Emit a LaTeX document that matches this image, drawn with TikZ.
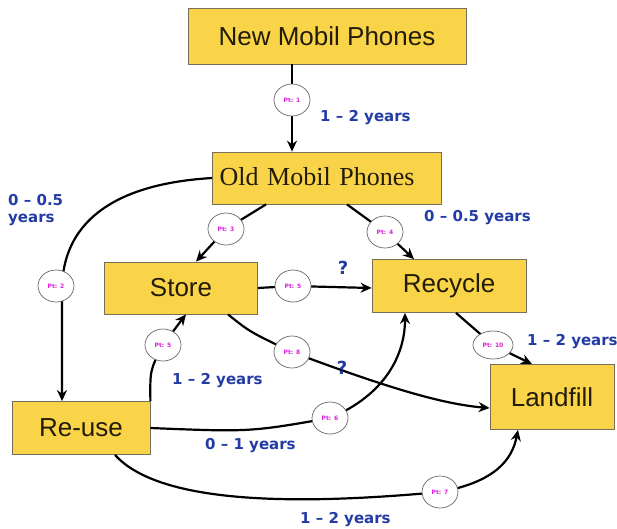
\documentclass[tikz,border=0pt]{standalone}
\usepackage{fontspec}
\setmainfont{Liberation Sans}
\newfontfamily\serifface{Liberation Serif}
\newfontfamily\labface{DejaVu Sans}
\usetikzlibrary{arrows.meta,shapes.geometric}
\definecolor{boxfill}{RGB}{249,212,72}
\definecolor{boxline}{RGB}{120,110,90}
\definecolor{boxtxt}{RGB}{35,28,10}
\definecolor{lblblue}{RGB}{35,60,165}
\definecolor{ptmag}{RGB}{220,30,220}
\tikzset{
  box/.style={draw=boxline, line width=0.8pt, fill=boxfill, inner sep=0pt, text=boxtxt},
  boxtext/.style={font=\fontsize{26}{28}\selectfont},
  arr/.style={line width=2.2pt, -{Stealth[length=11pt,width=10pt]}},
  ptnode/.style={ellipse, draw=gray!80!black, line width=0.7pt, fill=white, minimum width=36pt, minimum height=32pt, inner sep=0pt, text=ptmag, font=\labface\bfseries\fontsize{6}{7}\selectfont},
  yrs/.style={text=lblblue, font=\labface\bfseries\fontsize{15}{17}\selectfont, inner sep=0pt},
  qm/.style={text=lblblue, font=\labface\bfseries\fontsize{18}{19}\selectfont, inner sep=0pt}
}
\begin{document}
\begin{tikzpicture}[x=1pt,y=-1pt]
\useasboundingbox (0,0) rectangle (617,528);
% boxes
\node[box, minimum width=278pt, minimum height=56pt, boxtext] (new) at (327,36) {New Mobil Phones};
\node[box, minimum height=52pt, text width=215pt, inner xsep=7pt, align=left, font=\serifface\fontsize{26}{28}\selectfont] (old) at (327,178) {\raisebox{4pt}{Old Mobil Phones}};
\node[box, minimum width=153pt, minimum height=52pt, boxtext] (store) at (181,288) {Store};
\node[box, minimum width=154pt, minimum height=53pt, boxtext] (recycle) at (449,286) {Recycle};
\node[box, minimum width=138pt, minimum height=53pt, boxtext] (reuse) at (81,428) {Re-use};
\node[box, minimum width=124pt, minimum height=65pt, boxtext] (landfill) at (552,397) {Landfill};
% coordinates for the point markers
\coordinate (c1) at (292,100);
\coordinate (c2) at (56,286);
\coordinate (c3) at (226,229);
\coordinate (c4) at (385,232);
\coordinate (c5) at (293,286);
\coordinate (c5b) at (163,345);
\coordinate (c8) at (292,352);
\coordinate (c6) at (330,418);
\coordinate (c10) at (493,345);
\coordinate (c7) at (440,492);
% helper x/y guides
\coordinate (x62) at (62,0);
\coordinate (x266) at (266,0);
\coordinate (x196) at (196,0);
\coordinate (x347) at (347,0);
\coordinate (x414) at (414,0);
\coordinate (x186) at (186,0);
\coordinate (x228) at (228,0);
\coordinate (y408) at (0,408);
\coordinate (y428) at (0,428);
\coordinate (x405) at (405,0);
\coordinate (x115) at (115,0);
\coordinate (x518) at (518,0);
\coordinate (x456) at (456,0);
\coordinate (x532) at (532,0);
% connectors
\draw[arr] (new.south -| c1) -- (c1) -- (old.north -| c1);
\draw[arr] (old.west) .. controls (110,184) and (62,225) .. (62,290) -- (reuse.north -| x62);
\draw[arr] (old.south -| x266) -- (c3) -- (store.north -| x196);
\draw[arr] (old.south -| x347) -- (c4) -- (recycle.north -| x414);
\draw[arr] (store.east) -- (c5) -- (recycle.west |- store.east);
\draw[arr] (reuse.north east) .. controls (150,370) .. (c5b) .. controls (172,332) .. (store.south -| x186);
\draw[arr] (store.south -| x228) .. controls (250,332) .. (c8) .. controls (380,385) and (440,404) .. (landfill.west |- y408);
\draw[arr] (reuse.east |- y428) .. controls (250,432) .. (c6) .. controls (385,395) and (405,355) .. (recycle.south -| x405);
\draw[arr] (reuse.south -| x115) .. controls (160,505) and (300,505) .. (c7) .. controls (495,482) and (512,460) .. (landfill.south -| x518);
\draw[arr] (recycle.south -| x456) -- (c10) -- (landfill.north -| x532);
% point markers
\node[ptnode] (p1) at (c1) {Pt: 1};
\node[ptnode] (p2) at (c2) {Pt: 2};
\node[ptnode] (p3) at (c3) {Pt: 3};
\node[ptnode] (p4) at (c4) {Pt: 4};
\node[ptnode] (p5) at (c5) {Pt: 5};
\node[ptnode] (p5b) at (c5b) {Pt: 5};
\node[ptnode] (p8) at (c8) {Pt: 8};
\node[ptnode] (p6) at (c6) {Pt: 6};
\node[ptnode, minimum width=40pt, minimum height=28pt] (p10) at (c10) {Pt: 10};
\node[ptnode] (p7) at (c7) {Pt: 7};
% labels
\node[yrs, anchor=west] (l1) at (320,118) {1 – 2 years};
\node[yrs, anchor=west, align=left] (l2) at (8,210) {0 – 0.5\\years};
\node[yrs, anchor=west] (l3) at (424,218) {0 – 0.5 years};
\node[qm] (q1) at (343,268) {?};
\node[yrs, anchor=west] (l4) at (172,381) {1 – 2 years};
\node[qm] (q2) at (342,368) {?};
\node[yrs, anchor=west] (l5) at (527,342) {1 – 2 years};
\node[yrs, anchor=west] (l6) at (205,446) {0 – 1 years};
\node[yrs, anchor=west] (l7) at (300,520) {1 – 2 years};
\end{tikzpicture}
\end{document}
